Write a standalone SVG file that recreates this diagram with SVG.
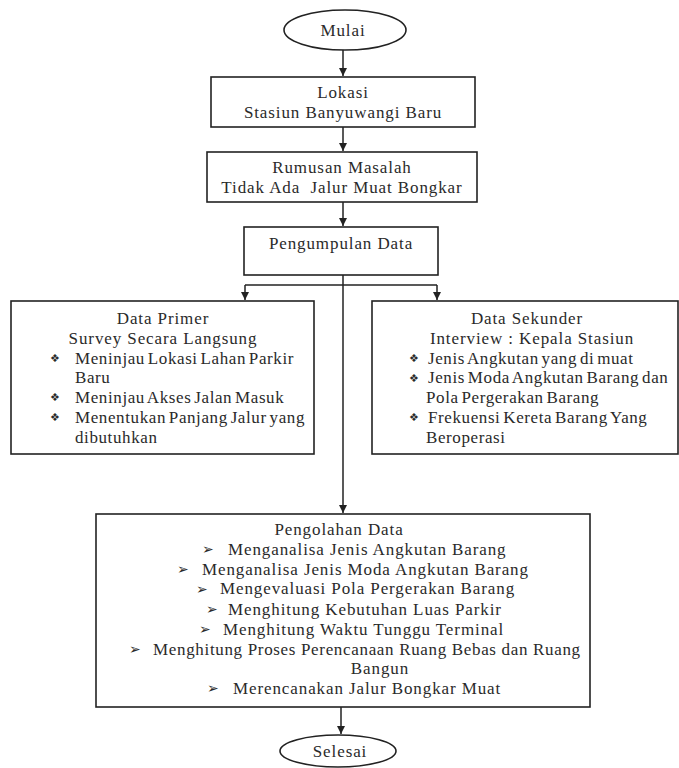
<svg xmlns="http://www.w3.org/2000/svg" width="679" height="768" viewBox="0 0 679 768">
<style>
  .box { fill: #ffffff; stroke: #222222; stroke-width: 1.6; }
  .line { fill: none; stroke: #222222; stroke-width: 1.5; }
  .t { font-family: "Liberation Serif", "Times New Roman", serif; font-size: 17px; letter-spacing: 0.9px; fill: #2a2a2a; }
  .n { letter-spacing: 0.6px; word-spacing: -2px; }
  .c { text-anchor: middle; }
  .b { font-family: "DejaVu Sans", sans-serif; font-size: 11px; fill: #2a2a2a; }
  .a { font-family: "DejaVu Sans", sans-serif; font-size: 14px; fill: #2a2a2a; }
</style>
<defs>
  <marker id="ah" markerUnits="userSpaceOnUse" markerWidth="9" markerHeight="9" refX="8" refY="4" orient="auto">
    <path d="M0,0 L8,4 L0,8 z" fill="#222222"/>
  </marker>
</defs>
<rect width="679" height="768" fill="#ffffff"/>

<g id="connectors">
  <line class="line" x1="343" y1="50" x2="343" y2="76" marker-end="url(#ah)"/>
  <line class="line" x1="343" y1="127" x2="343" y2="151" marker-end="url(#ah)"/>
  <line class="line" x1="343" y1="202" x2="343" y2="226" marker-end="url(#ah)"/>
  <line class="line" x1="343" y1="275" x2="343" y2="513" marker-end="url(#ah)"/>
  <line class="line" x1="245" y1="285" x2="437" y2="285"/>
  <line class="line" x1="245" y1="285" x2="245" y2="300" marker-end="url(#ah)"/>
  <line class="line" x1="437" y1="285" x2="437" y2="300" marker-end="url(#ah)"/>
  <line class="line" x1="341" y1="707" x2="341" y2="734" marker-end="url(#ah)"/>
</g>

<g id="mulai">
  <ellipse class="box" cx="345" cy="30" rx="61" ry="20"/>
  <text class="t c" x="343" y="35.5">Mulai</text>
</g>

<g id="lokasi">
  <rect class="box" x="211" y="77" width="264" height="50"/>
  <text class="t c" x="343" y="97.5">Lokasi</text>
  <text class="t c" x="343" y="117.5">Stasiun Banyuwangi Baru</text>
</g>

<g id="rumusan">
  <rect class="box" x="207" y="152" width="270" height="50"/>
  <text class="t c" x="342" y="172.5">Rumusan Masalah</text>
  <text class="t c" x="342" y="192.5" xml:space="preserve">Tidak Ada  Jalur Muat Bongkar</text>
</g>

<g id="pengumpulan">
  <rect class="box" x="244" y="227" width="194" height="48"/>
  <text class="t c" x="341" y="248.5">Pengumpulan Data</text>
</g>

<g id="data-primer">
  <rect class="box" x="11" y="301" width="303" height="153"/>
  <text class="t c" x="163" y="323.5">Data Primer</text>
  <text class="t c" x="163" y="343.5">Survey Secara Langsung</text>
  <text class="b" x="50" y="362">❖</text>
  <text class="t n" x="75" y="363.5">Meninjau Lokasi Lahan Parkir</text>
  <text class="t n" x="75" y="383">Baru</text>
  <text class="b" x="50" y="401">❖</text>
  <text class="t n" x="75" y="402.5">Meninjau Akses Jalan Masuk</text>
  <text class="b" x="50" y="421">❖</text>
  <text class="t n" x="75" y="422.5">Menentukan Panjang Jalur yang</text>
  <text class="t n" x="75" y="442.5">dibutuhkan</text>
</g>

<g id="data-sekunder">
  <rect class="box" x="372" y="301" width="306" height="153"/>
  <text class="t c" x="527" y="323.5">Data Sekunder</text>
  <text class="t c" x="532" y="343.5">Interview : Kepala Stasiun</text>
  <text class="b" x="409" y="362">❖</text>
  <text class="t n" x="428" y="363.5">Jenis Angkutan yang di muat</text>
  <text class="b" x="409" y="382">❖</text>
  <text class="t n" x="428" y="383">Jenis Moda Angkutan Barang dan</text>
  <text class="t n" x="426" y="402.5">Pola Pergerakan Barang</text>
  <text class="b" x="409" y="421">❖</text>
  <text class="t n" x="428" y="422.5">Frekuensi Kereta Barang Yang</text>
  <text class="t n" x="426" y="442.5">Beroperasi</text>
</g>

<g id="pengolahan">
  <rect class="box" x="96" y="514" width="494" height="193"/>
  <text class="t c" x="339" y="534.5">Pengolahan Data</text>
  <text class="a" x="202" y="554">➢</text>
  <text class="t" x="228" y="554.5">Menganalisa Jenis Angkutan Barang</text>
  <text class="a" x="177" y="574">➢</text>
  <text class="t" x="202" y="574.5">Menganalisa Jenis Moda Angkutan Barang</text>
  <text class="a" x="196" y="593.5">➢</text>
  <text class="t" x="220" y="594">Mengevaluasi Pola Pergerakan Barang</text>
  <text class="a" x="206" y="614">➢</text>
  <text class="t" x="228" y="614.5">Menghitung Kebutuhan Luas Parkir</text>
  <text class="a" x="199" y="634">➢</text>
  <text class="t" x="223" y="634.5">Menghitung Waktu Tunggu Terminal</text>
  <text class="a" x="129" y="654">➢</text>
  <text class="t" x="153" y="654.5" textLength="428" lengthAdjust="spacing">Menghitung Proses Perencanaan Ruang Bebas dan Ruang</text>
  <text class="t c" x="380" y="674">Bangun</text>
  <text class="a" x="207" y="693">➢</text>
  <text class="t" x="233" y="693.5">Merencanakan Jalur Bongkar Muat</text>
</g>

<g id="selesai">
  <ellipse class="box" cx="338" cy="751" rx="58" ry="16"/>
  <text class="t c" x="340" y="757">Selesai</text>
</g>
</svg>
